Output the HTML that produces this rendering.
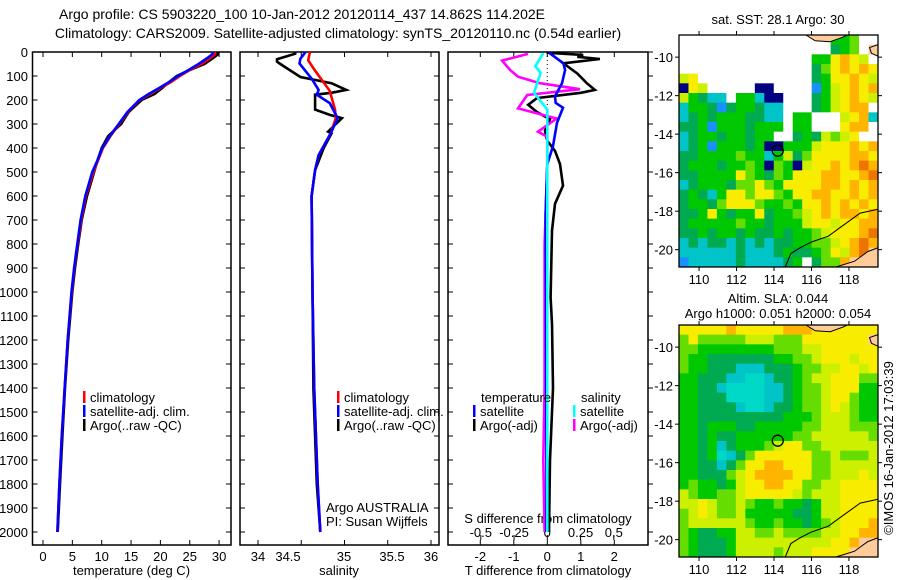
<!DOCTYPE html>
<html><head><meta charset="utf-8">
<style>
html,body{margin:0;padding:0;background:#fff;}
svg{display:block;font-family:"Liberation Sans",sans-serif;}
text{font-size:13px;fill:#000;}
</style></head>
<body>
<svg id="fig" width="900" height="580" viewBox="0 0 900 580">
<text x="302" y="19" text-anchor="middle" style="font-size:14px">Argo profile: CS 5903220_100 10-Jan-2012 20120114_437 14.862S 114.202E</text>
<text x="338" y="38" text-anchor="middle" style="font-size:14px">Climatology: CARS2009. Satellite-adjusted climatology: synTS_20120110.nc (0.54d earlier)</text>
<g id="g"></g>
</svg>
<script>
// ---- data ----
const tDepth=[0,10,25,50,75,100,125,150,175,200,250,300,350,400,450,500,600,700,800,900,1000,1200,1400,1600,1800,2000];
const tArgo=[29.6,29.8,29.0,27.5,25.0,22.8,21.5,20.3,19.0,16.8,14.6,13.3,11.1,10.0,9.3,8.7,7.5,6.6,6.0,5.45,5.0,4.3,3.75,3.3,2.9,2.5];
const tClim=[29.3,29.3,28.5,27.0,25.0,23.3,21.8,20.0,18.3,16.5,14.5,13.0,11.5,10.2,9.4,8.6,7.3,6.5,5.9,5.35,4.9,4.2,3.7,3.2,2.8,2.45];
const tSat=[29.0,28.8,28.0,26.5,24.8,23.0,21.5,19.8,18.0,16.4,14.4,12.9,11.4,10.1,9.3,8.4,7.2,6.4,5.85,5.3,4.85,4.2,3.7,3.2,2.8,2.45];
const sArgoD=[0,7,30,40,48,104,130,158,170,178,240,262,276,300,332,339,400,492,600,1000,1400,1800,2000];
const sArgo=[34.43,34.43,34.22,34.22,34.25,34.49,34.85,35.02,34.85,34.66,34.66,34.83,34.97,34.9,34.81,34.85,34.76,34.66,34.62,34.63,34.64,34.68,34.72];
const sClimD=[0,35,78,162,240,276,339,430,492,600,1000,1400,1800,2000];
const sClim=[34.60,34.58,34.66,34.83,34.89,34.9,34.84,34.7,34.66,34.62,34.63,34.65,34.69,34.72];
const sSatD=[0,28,48,111,158,178,213,276,339,430,492,600,1000,1400,1800,2000];
const sSat=[34.55,34.49,34.48,34.62,34.70,34.68,34.83,34.92,34.84,34.7,34.66,34.62,34.63,34.65,34.69,34.72];
const dTArgoD=[3,12,20,29,47,90,130,158,170,192,220,250,280,328,370,412,467,557,633,744,1022,1133,1400,1700,2000];
const dTArgo=[-0.02,1.07,0.9,1.57,0.48,0.9,1.18,1.42,1.0,-0.31,-0.57,-0.31,0.08,-0.07,0,0.23,0.38,0.47,0.23,0.14,0.1,0.14,0.17,0.08,0.05];
const dTSatD=[3,47,75,130,185,212,232,295,392,467,675,1000,1500,2000];
const dTSat=[0.05,0.48,0.53,0.44,0.23,0.25,0.47,0.29,0.17,0,-0.05,-0.04,-0.03,-0.02];
const dSArgoD=[8,36,75,103,130,155,179,235,277,332,353,467,800,1400,1700,2000];
const dSArgo=[-0.145,-0.34,-0.28,-0.22,-0.055,0.245,-0.15,-0.22,0.07,-0.07,0,0,-0.02,-0.02,-0.03,-0.02];
const dSSatD=[4,59,87,170,240,360,1000,2000];
const dSSat=[-0.03,-0.09,-0.05,-0.1,0,0,0,0];
const depthTicks=[0,100,200,300,400,500,600,700,800,900,1000,1100,1200,1300,1400,1500,1600,1700,1800,1900,2000];
const tTicks=[0,5,10,15,20,25,30];
const sTicks=[34,34.5,35,35.5,36];
const sTickLabelX=[258,288,344,392,431];
const dTTicks=[-2,-1,0,1,2];
const dSTicks=["-0.5","-0.25","0","0.25","0.5"];
const latTicks=[-10,-12,-14,-16,-18,-20];
const lonTicks=[110,112,114,116,118];
const sstGrid=[
"................ggh..","................dgh.L","..............ggYoYy.","..............dhYoYoY",
"yY............dgYYoYy","nYy.....nn....bgyYoYo","ygdcc.ggcnn...dgyYoYy","cggdbdggdcc...dgyYoo.",
"cdgdgggddcc.gg...yYoc","ddgbgggdggg.gg...Yoo.","cdggdggdgg..dgdyhyY..","cdgbgggdgnngggyYYYoYo",
"ddgggghggcgydhYYYYooY","dgggdgghgnhgnyYYoYoOo","ddggggYhgdhgYYYooYYoO","cdgggdhhYhgYYYYooYoYo",
"dgdcgYYhYYhgYYooYYoYo","dggdhYYYhgghgYYoYoYoY","ddgYgdggYdgghyYoYooYo","dggggghggdgggyYYyYYoo",
"ddgdggdgddgdgghyYYYoO","cdcddcdcdcddgghhyYoOo","ccccccdcccdgddghYyoOL","bcccccdccccdg.dhhoLLL"];
const slaGrid=[
"YYYYYoYYYYYoooYYYYYYY","hYhhhhhyyyhhhYYYYYYYL","hhgggggggghhhyyYYYYYY","hggdddddddgghhyYYYyYY",
"hggdddcccdddghhyyYYyY","ggdddccCCcddghyyYYYhh","ggddcCCCCccdghhyYYYgg","ggdddCCCCccdghhyYYhgg",
"ggddddcCCcddghhyYyhgg","ggdddddddddggghyyyhgg","ggdgggddggggghhyyyhhh","ggdgddgggggghhyyyyyyh",
"ggdgcdggghyYYhhyyyyyy","ggdgCcdhYYYYYYhhyhhhy","ggddcdhYYooYYYhhyyyyy","ggdddhyYooooYYhhyyyYy",
"ghggdgyYYooYYhhyyYYYY","yhgghhyYYYYYyhyyyYYYY","yyYyhhyhgghggdgyyYYYY","hyYyhhygggggddgyyYYYY",
"hyyyyyyhgghggdghyYYYo","hgddggyyhhyhhhhyyYYoo","hgdddgyyyyyyyyyyYYoLL","hgdddgyyyyhyyyYYYYLLL"];
const palette={'.':'#ffffff',d:'#00aa50',g:'#00c800',h:'#66dd00',y:'#ccf000',Y:'#f8ec00',o:'#ffb400',O:'#ee7400',c:'#00c4c8',C:'#00d8c8',b:'#1890ff',n:'#000080',L:'#ffcc99'};

// ---- helpers ----
const NS='http://www.w3.org/2000/svg';
const G=document.getElementById('g');
function mk(tag,attrs,parent){const e=document.createElementNS(NS,tag);for(const k in attrs)e.setAttribute(k,attrs[k]);(parent||G).appendChild(e);return e;}
function txt(x,y,s,anchor,parent){const t=mk('text',{x:x,y:y,'text-anchor':anchor||'start'},parent);t.textContent=s;return t;}
const Y0=52,Y1=545,yD=d=>52+0.24*d;

const panels=[{x0:32.5,x1:231,name:'temperature-panel'},{x0:240,x1:439,name:'salinity-panel'},{x0:448,x1:648,name:'difference-panel'}];
const xT=v=>43+5.87*v, xS=v=>258+86.5*(v-34), xDT=v=>547.3+33.5*v, xDS=v=>547.3+133*v;

panels.forEach((p,i)=>{
  const r=mk('rect',{x:p.x0,y:Y0,width:p.x1-p.x0,height:Y1-Y0,fill:'none',stroke:'#000','stroke-width':1.5});
  
  
  depthTicks.forEach(d=>{
    const y=yD(d);
    mk('line',{x1:p.x0,x2:p.x0+5,y1:y,y2:y,stroke:'#000'});
    if(i<2) mk('line',{x1:p.x1-5,x2:p.x1,y1:y,y2:y,stroke:'#000'});
    else mk('line',{x1:p.x1,x2:p.x1+5,y1:y,y2:y,stroke:'#000'});
  });
});
depthTicks.forEach(d=>{
  const t=txt(28,yD(d)+5,String(d),'end');
  
  
});
function xAxis(ticks,fx,labelX,y,name){
  ticks.forEach((v,k)=>{
    const x=fx(v);
    mk('line',{x1:x,x2:x,y1:Y1,y2:Y1-5,stroke:'#000'});
    mk('line',{x1:x,x2:x,y1:Y0,y2:Y0+5,stroke:'#000'});
    const t=txt(labelX?labelX[k]:x,y,String(v),'middle');
    
    
  });
}
xAxis(tTicks,xT,null,561,'temperature');
xAxis(sTicks,xS,sTickLabelX,561,'salinity');
xAxis(dTTicks,xDT,null,561,'t-difference');
let at=txt(131.5,575,'temperature (deg C)','middle');
at=txt(339,575,'salinity','middle');
at=txt(548,575,'T difference from climatology','middle');
dSTicks.forEach(s=>{
  const x=xDS(parseFloat(s));
  mk('line',{x1:x,x2:x,y1:Y1-5,y2:Y1-10,stroke:'#000'});
  const t=txt(x,537,s,'middle');
  
  
});
at=txt(548,523,'S difference from climatology','middle');

mk('line',{x1:xDT(0),x2:xDT(0),y1:Y0,y2:yD(400),stroke:'#000','stroke-dasharray':'1 3'});

function series(ds,vs,fx,color,name){
  const pts=ds.map((d,k)=>fx(vs[k]).toFixed(1)+','+yD(d).toFixed(1)).join(' ');
  const l=mk('polyline',{points:pts,fill:'none',stroke:color,'stroke-width':2.6,'stroke-linejoin':'miter'});
  
  
}
series(tDepth,tArgo,xT,'#000','temperature-argo-line');
series(tDepth,tClim,xT,'#f00','temperature-climatology-line');
series(tDepth,tSat,xT,'#00f','temperature-satellite-line');
series(sArgoD,sArgo,xS,'#000','salinity-argo-line');
series(sClimD,sClim,xS,'#f00','salinity-climatology-line');
series(sSatD,sSat,xS,'#00f','salinity-satellite-line');
series(dTArgoD,dTArgo,xDT,'#000','t-diff-argo-line');
series(dSArgoD,dSArgo,xDS,'#f0f','s-diff-argo-line');
series(dTSatD,dTSat,xDT,'#00f','t-diff-satellite-line');
series(dSSatD,dSSat,xDS,'#0ff','s-diff-satellite-line');

function leg(x,y,color,label,name){
  const g=mk('g',{});
  
  
  mk('rect',{x:x,y:y-11,width:2.5,height:12,fill:color},g);
  txt(x+7,y,label,'start',g);
}
[[83,'temperature-legend'],[337,'salinity-legend']].forEach(([x,n])=>{
  leg(x,402,'#f00','climatology',n+'-climatology');
  leg(x,416,'#00f','satellite-adj. clim.',n+'-satellite');
  leg(x,430,'#000','Argo(..raw -QC)',n+'-argo');
});
at=txt(481,402,'temperature');
at=txt(581,402,'salinity');
leg(473,416,'#00f','satellite','diff-legend-t-satellite');
leg(473,430,'#000','Argo(-adj)','diff-legend-t-argo');
leg(573,416,'#0ff','satellite','diff-legend-s-satellite');
leg(573,430,'#f0f','Argo(-adj)','diff-legend-s-argo');
at=txt(326,512,'Argo AUSTRALIA');
at=txt(326,526,'PI: Susan Wijffels');

function map(top,grid,name,titles){
  const L=679,R=878,B=top+232,lon0=108.93,lon1=119.55,lat0=-8.85,lat1=-20.9;
  const mx=lo=>L+(lo-lon0)/(lon1-lon0)*(R-L), my=la=>top+(la-lat0)/(lat1-lat0)*(B-top);
  const g=mk('g',{});
  
  
  const cw=(R-L)/21,ch=(B-top)/24;
  grid.forEach((row,r)=>{for(let c=0;c<21;c++){
    mk('rect',{x:(L+c*cw).toFixed(2),y:(top+r*ch).toFixed(2),width:(cw+0.4).toFixed(2),height:(ch+0.4).toFixed(2),fill:palette[row[c]]||'#fff'},g);
  }});
  mk('path',{d:`M${mx(117.3)},${B} L${mx(118.3)},${my(-20.6)} L${mx(119)},${my(-20.1)} L${R},${my(-19.9)} L${R},${B}Z`,fill:'#ffcc99',stroke:'#000','stroke-width':1},g);
  mk('path',{d:`M${mx(115.7)},${top} L${mx(116.2)},${my(-9.15)} L${mx(117)},${my(-9.2)} L${mx(117.7)},${my(-8.95)} L${mx(117.9)},${top}Z`,fill:'#ffcc99',stroke:'#000','stroke-width':1},g);
  mk('path',{d:`M${R},${my(-9.35)} L${mx(119.1)},${my(-9.5)} L${mx(119.2)},${my(-9.8)} L${R},${my(-9.95)}Z`,fill:'#ffcc99',stroke:'#000','stroke-width':1},g);
  mk('polyline',{points:[[119.55,-17.9],[118.6,-18.1],[117.6,-18.8],[116.9,-19.3],[116.0,-19.6],[115.4,-19.9],[114.9,-20.2],[114.6,-20.9]].map(p=>mx(p[0])+','+my(p[1])).join(' '),fill:'none',stroke:'#000','stroke-width':1},g);
  const c=mk('circle',{cx:mx(114.2),cy:my(-14.86),r:5.5,fill:'none',stroke:'#000','stroke-width':1.3},g);
  
  
  mk('rect',{x:L,y:top,width:R-L,height:B-top,fill:'none',stroke:'#000','stroke-width':1.3},g);
  latTicks.forEach(la=>{const y=my(la);
    mk('line',{x1:L-4,x2:L,y1:y,y2:y,stroke:'#000'},g);mk('line',{x1:R,x2:R+4,y1:y,y2:y,stroke:'#000'},g);
    const t=txt(673,y+5,String(la),'end',g);});
  lonTicks.forEach(lo=>{const x=mx(lo);
    mk('line',{x1:x,x2:x,y1:top-4,y2:top,stroke:'#000'},g);mk('line',{x1:x,x2:x,y1:B,y2:B+4,stroke:'#000'},g);
    const t=txt(x,B+17,String(lo),'middle',g);});
  titles.forEach(([s,y])=>{const t=txt(778,y,s,'middle',g);});
}
map(35,sstGrid,'sst-map',[['sat. SST: 28.1 Argo: 30',24]]);
map(325,slaGrid,'sla-map',[['Altim. SLA: 0.044',303],['Argo h1000: 0.051 h2000: 0.054',318]]);
const stamp=txt(0,0,'©IMOS 16-Jan-2012 17:03:39','middle');
stamp.setAttribute('transform','translate(893,448) rotate(-90)');


</script>
</body></html>
